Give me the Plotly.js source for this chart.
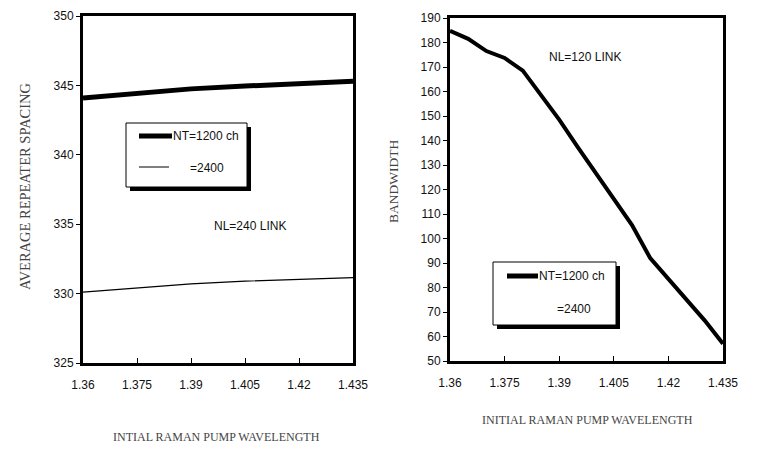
<!DOCTYPE html>
<html><head><meta charset="utf-8">
<script src="https://cdn.plot.ly/plotly-3.0.1.min.js"></script>
<style>html,body{margin:0;padding:0;background:#fff}#c{width:773px;height:455px}</style>
</head><body><div id="c"></div>
<script>
// Left chart: average repeater spacing vs initial Raman pump wavelength
const wlLeft = [1.36, 1.375, 1.39, 1.405, 1.42, 1.435];
const spacingNT1200 = [344.1, 344.45, 344.75, 344.95, 345.1, 345.3];
const spacingNT2400 = [330.1, 330.4, 330.7, 330.9, 331.05, 331.15];
// Right chart: bandwidth vs initial Raman pump wavelength
const wlRight = [1.36, 1.365, 1.37, 1.375, 1.38, 1.385, 1.39, 1.395, 1.40, 1.405, 1.41, 1.415, 1.42, 1.425, 1.43, 1.435];
const bandwidthNT1200 = [184.8, 181.5, 176.5, 173.7, 168.5, 158.5, 148.5, 137.5, 127, 116, 105.5, 92, 83.5, 75, 66.5, 57];
const xTicks = [1.36, 1.375, 1.39, 1.405, 1.42, 1.435];
const xTickText = ['1.36', '1.375', '1.39', '1.405', '1.42', '1.435'];
const leftYTicks = [325, 330, 335, 340, 345, 350];
const rightYTicks = [50, 60, 70, 80, 90, 100, 110, 120, 130, 140, 150, 160, 170, 180, 190];
const legendLabels = ['NT=1200 ch', '=2400'];

const tickFont = {family: 'Liberation Sans Narrow, Liberation Sans, Arial, sans-serif', size: 12, color: '#111'};
const serifX = {family: 'Liberation Serif, Times New Roman, serif', size: 12, color: '#444'};
const serifY = {family: 'Liberation Serif, Times New Roman, serif', size: 14.5, color: '#444'};
const labFont = {family: 'Liberation Sans Narrow, Liberation Sans, Arial, sans-serif', size: 12, color: '#111'};

const traces = [
  {x: wlLeft, y: spacingNT1200, xaxis: 'x', yaxis: 'y', mode: 'lines', line: {color: '#000', width: 5}, hoverinfo: 'skip'},
  {x: wlLeft, y: spacingNT2400, xaxis: 'x', yaxis: 'y', mode: 'lines', line: {color: '#000', width: 1.2}, hoverinfo: 'skip'},
  {x: wlRight, y: bandwidthNT1200, xaxis: 'x2', yaxis: 'y2', mode: 'lines', line: {color: '#000', width: 4}, hoverinfo: 'skip'}
];

function xax(domain, anchor) {
  return {domain: domain, anchor: anchor, range: [1.36, 1.435], tickvals: xTicks, ticktext: xTickText,
    ticks: 'inside', ticklen: 5, tickwidth: 1, tickcolor: '#000', showline: true, linewidth: 3, linecolor: '#000',
    mirror: true, showgrid: false, zeroline: false, tickfont: tickFont, fixedrange: true, ticklabelstandoff: 9};
}
function yax(domain, anchor, range, vals) {
  return {domain: domain, anchor: anchor, range: range, tickvals: vals, ticks: 'outside', ticklen: 4, tickwidth: 1,
    tickcolor: '#000', showline: true, linewidth: 3, linecolor: '#000', mirror: true, showgrid: false,
    zeroline: false, tickfont: tickFont, fixedrange: true};
}

const W = 773, H = 455;
const px = v => v / W, py = v => 1 - v / H;

function legendBox(x0, y0, x1, y1) {
  return [
    {type: 'rect', xref: 'paper', yref: 'paper', x0: px(x0 + 4), x1: px(x1 + 4), y0: py(y1 + 4), y1: py(y0 + 4), fillcolor: '#000', line: {width: 0}},
    {type: 'rect', xref: 'paper', yref: 'paper', x0: px(x0), x1: px(x1), y0: py(y1), y1: py(y0), fillcolor: '#fff', line: {color: '#000', width: 1}}
  ];
}

const shapes = [].concat(
  legendBox(126, 123, 247, 187),
  [{type: 'line', xref: 'paper', yref: 'paper', x0: px(139), x1: px(172), y0: py(136), y1: py(136), line: {color: '#000', width: 5}},
   {type: 'line', xref: 'paper', yref: 'paper', x0: px(139), x1: px(169), y0: py(167), y1: py(167), line: {color: '#000', width: 1}}],
  legendBox(493, 262, 616, 325),
  [{type: 'line', xref: 'paper', yref: 'paper', x0: px(507), x1: px(538), y0: py(276), y1: py(276), line: {color: '#000', width: 5}}]
);

const annotations = [
  {xref: 'paper', yref: 'paper', x: px(171), y: py(136), text: legendLabels[0], showarrow: false, xanchor: 'left', yanchor: 'middle', font: labFont},
  {xref: 'paper', yref: 'paper', x: px(188), y: py(168), text: legendLabels[1], showarrow: false, xanchor: 'left', yanchor: 'middle', font: labFont},
  {xref: 'paper', yref: 'paper', x: px(537), y: py(276), text: legendLabels[0], showarrow: false, xanchor: 'left', yanchor: 'middle', font: labFont},
  {xref: 'paper', yref: 'paper', x: px(555), y: py(309), text: legendLabels[1], showarrow: false, xanchor: 'left', yanchor: 'middle', font: labFont},
  {xref: 'paper', yref: 'paper', x: px(250), y: py(226), text: 'NL=240 LINK', showarrow: false, xanchor: 'center', yanchor: 'middle', font: labFont},
  {xref: 'paper', yref: 'paper', x: px(585), y: py(57), text: 'NL=120 LINK', showarrow: false, xanchor: 'center', yanchor: 'middle', font: labFont},
  {xref: 'paper', yref: 'paper', x: px(216), y: py(437), text: 'INTIAL RAMAN PUMP WAVELENGTH', showarrow: false, xanchor: 'center', yanchor: 'middle', font: serifX},
  {xref: 'paper', yref: 'paper', x: px(587), y: py(420), text: 'INITIAL RAMAN PUMP WAVELENGTH', showarrow: false, xanchor: 'center', yanchor: 'middle', font: serifX},
  {xref: 'paper', yref: 'paper', x: px(25), y: py(186), text: 'AVERAGE REPEATER SPACING', textangle: -90, showarrow: false, xanchor: 'center', yanchor: 'middle', font: serifY},
  {xref: 'paper', yref: 'paper', x: px(393), y: py(182), text: 'BANDWIDTH', textangle: -90, showarrow: false, xanchor: 'center', yanchor: 'middle', font: {family: serifY.family, size: 13.5, color: '#444'}}
];

const layout = {
  width: W, height: H, margin: {l: 0, r: 0, t: 0, b: 0}, paper_bgcolor: '#fff', plot_bgcolor: '#fff',
  showlegend: false,
  xaxis: xax([px(83), px(353)], 'y'),
  yaxis: yax([py(363), py(16)], 'x', [325, 350], leftYTicks),
  xaxis2: xax([px(450), px(723)], 'y2'),
  yaxis2: yax([py(361), py(18)], 'x2', [50, 190], rightYTicks),
  shapes: shapes, annotations: annotations
};

Plotly.newPlot('c', traces, layout, {staticPlot: true, displayModeBar: false});
</script></body></html>
